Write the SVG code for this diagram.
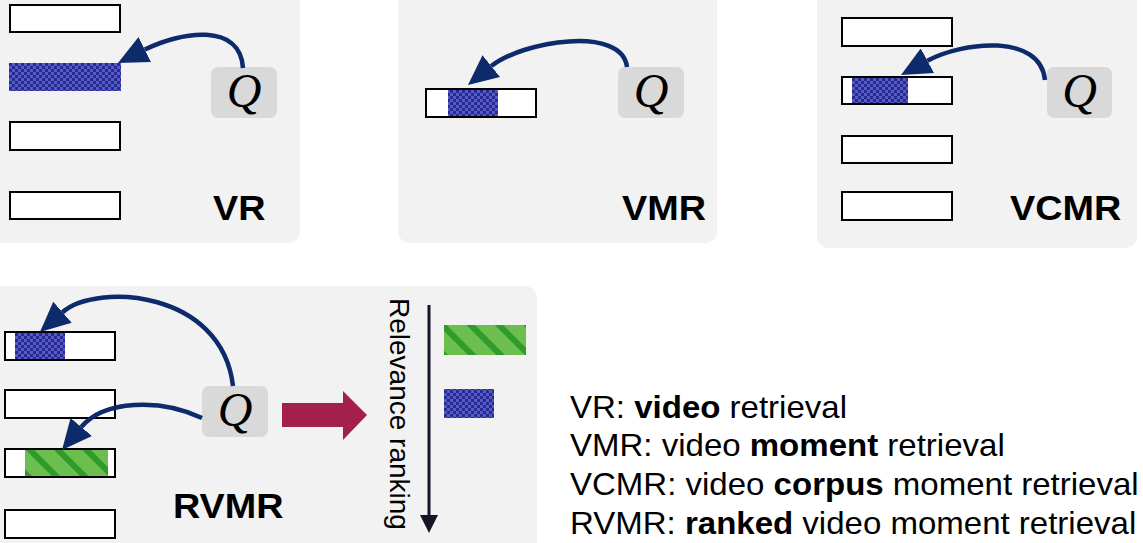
<svg xmlns="http://www.w3.org/2000/svg" width="1143" height="543" viewBox="0 0 1143 543">
  <defs>
    <pattern id="blue" width="6" height="6" patternUnits="userSpaceOnUse">
      <rect width="6" height="6" fill="#5459cf"/>
      <rect width="3" height="3" fill="#282c88"/>
      <rect x="3" y="3" width="3" height="3" fill="#282c88"/>
    </pattern>
    <pattern id="green" width="20" height="20" patternUnits="userSpaceOnUse" patternTransform="rotate(-45)">
      <rect width="20" height="20" fill="#6cbf4e"/>
      <rect width="6" height="20" fill="#2e9b2a"/>
    </pattern>
    <marker id="ah" viewBox="0 0 10 10" refX="0" refY="5" markerWidth="30" markerHeight="28" markerUnits="userSpaceOnUse" orient="auto" preserveAspectRatio="none">
      <path d="M0,0 L10,5 L0,10 z" fill="#0d2a6b"/>
    </marker>
    <marker id="ahk" viewBox="0 0 10 10" refX="0" refY="5" markerWidth="18" markerHeight="18" markerUnits="userSpaceOnUse" orient="auto" preserveAspectRatio="none">
      <path d="M0,0 L10,5 L0,10 z" fill="#15152a"/>
    </marker>
  </defs>
  <style>
    .panel { fill: #f2f2f2; }
    .bar { fill: #ffffff; stroke: #000000; stroke-width: 2; }
    .frame { fill: none; stroke: #000000; stroke-width: 2; }
    .qbox { fill: #d9d9d9; }
    .q { font-family: "Liberation Serif", "DejaVu Serif", serif; font-style: italic; font-size: 48px; fill: #000; text-anchor: middle; }
    .lbl { font-family: "Liberation Sans", Arial, sans-serif; font-weight: bold; font-size: 35px; fill: #000; }
    .leg { font-family: "Liberation Sans", Arial, sans-serif; font-size: 31px; fill: #000; }
    .rel { font-family: "Liberation Sans", Arial, sans-serif; font-size: 28px; fill: #000; }
    .conn { fill: none; stroke: #0d2a6b; stroke-width: 4.5; marker-end: url(#ah); }
  </style>

  <g id="panel-vr">
    <rect class="panel" x="-20" y="-20" width="320" height="263" rx="12"/>
    <rect class="bar" x="10" y="5" width="110" height="27"/>
    <rect x="9" y="63" width="112" height="28" fill="url(#blue)"/>
    <rect class="bar" x="10" y="122" width="110" height="28"/>
    <rect class="bar" x="10" y="192" width="110" height="27"/>
    <rect class="qbox" x="211" y="67" width="66" height="51" rx="7"/>
    <text class="q" x="244" y="107">Q</text>
    <text class="lbl" transform="translate(213,220) scale(1.08,1)">VR</text>
  </g>

  <g id="panel-vmr">
    <rect class="panel" x="398" y="-20" width="319" height="263" rx="12"/>
    <rect class="bar" x="426" y="89" width="110" height="28"/>
    <rect x="448" y="89" width="50" height="28" fill="url(#blue)"/>
    <rect class="frame" x="426" y="89" width="110" height="28"/>
    <rect class="qbox" x="618" y="67" width="66" height="51" rx="7"/>
    <text class="q" x="651" y="107">Q</text>
    <text class="lbl" transform="translate(622,220) scale(1.08,1)">VMR</text>
  </g>

  <g id="panel-vcmr">
    <rect class="panel" x="817" y="-20" width="320" height="268" rx="12"/>
    <rect class="bar" x="842" y="18" width="110" height="28"/>
    <rect class="bar" x="842" y="77" width="110" height="27"/>
    <rect x="852" y="77" width="56" height="27" fill="url(#blue)"/>
    <rect class="frame" x="842" y="77" width="110" height="27"/>
    <rect class="bar" x="842" y="136" width="110" height="27"/>
    <rect class="bar" x="842" y="192" width="110" height="28"/>
    <rect class="qbox" x="1047" y="67" width="65" height="51" rx="7"/>
    <text class="q" x="1079.5" y="107">Q</text>
    <text class="lbl" transform="translate(1010,220) scale(1.08,1)">VCMR</text>
  </g>

  <g id="panel-rvmr">
    <rect class="panel" x="-20" y="286" width="557" height="280" rx="12"/>
    <rect class="bar" x="5" y="332" width="110" height="28"/>
    <rect x="15" y="332" width="50" height="28" fill="url(#blue)"/>
    <rect class="frame" x="5" y="332" width="110" height="28"/>
    <rect class="bar" x="5" y="390" width="110" height="28"/>
    <rect class="bar" x="5" y="449" width="110" height="28"/>
    <rect x="25" y="449" width="83" height="28" fill="url(#green)"/>
    <rect class="frame" x="5" y="449" width="110" height="28"/>
    <rect class="bar" x="5" y="510" width="110" height="28"/>
    <rect class="qbox" x="202" y="386" width="66" height="51" rx="7"/>
    <text class="q" x="235" y="426">Q</text>
    <text class="lbl" transform="translate(173,518) scale(1.08,1)">RVMR</text>
    <text class="rel" transform="translate(390,298) rotate(90)">Relevance ranking</text>
    <rect x="444" y="325" width="82" height="30" fill="url(#green)"/>
    <rect x="444" y="389" width="50" height="29" fill="url(#blue)"/>
  </g>

  <g id="legend">
    <text class="leg" transform="translate(570,418) scale(1.065,1)">VR: <tspan font-weight="bold">video</tspan> retrieval</text>
    <text class="leg" transform="translate(570,456) scale(1.065,1)">VMR: video <tspan font-weight="bold">moment</tspan> retrieval</text>
    <text class="leg" transform="translate(570,495) scale(1.065,1)">VCMR: video <tspan font-weight="bold">corpus</tspan> moment retrieval</text>
    <text class="leg" transform="translate(570,534) scale(1.065,1)">RVMR: <tspan font-weight="bold">ranked</tspan> video moment retrieval</text>
  </g>

  <g id="connectors">
    <path class="conn" d="M243 68 C240 22, 180.6 31.7, 144.8 49.6"/>
    <path class="conn" d="M627 67 C622 25, 522.4 41, 491.3 66.1"/>
    <path class="conn" d="M1045 80 C1040 33, 962.6 41.7, 927.4 60.7"/>
    <path class="conn" d="M233 386 C222 290, 96.3 282.5, 62.5 312.2"/>
    <path class="conn" d="M202 418 C160 398, 103.8 400.2, 81.3 427"/>
    <path d="M282 403 H343 V391 L367 415 L343 440 V427 H282 Z" fill="#a4204a"/>
    <path d="M429 305 V515" stroke="#15152a" stroke-width="3" fill="none" marker-end="url(#ahk)"/>
  </g>
</svg>
